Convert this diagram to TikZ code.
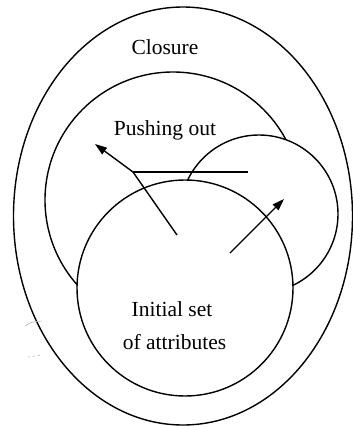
\documentclass[tikz,border=0pt]{standalone}
\usepackage{fontspec}
\setmainfont{Liberation Serif}
\newfontfamily\timesfont{Liberation Serif}
\usetikzlibrary{arrows.meta}
\begin{document}
\begin{tikzpicture}[x=1pt,y=-1pt,
  outline/.style={line width=1.4pt},
  lbl/.style={anchor=base,inner sep=0pt,font=\timesfont\fontsize{21.5}{26}\selectfont},
  push/.style={line width=1.4pt,-{Triangle[length=12pt,width=8pt]}},
  speck/.style={gray!60,line width=0.6pt}]
\useasboundingbox (0,0) rectangle (353,426);
% outer closure
\draw[outline] (183,216) ellipse [x radius=169.5pt, y radius=209pt];
% initial set
\draw[outline] (185,288) circle (108pt);
% small pushed circle, outside initial set only
\begin{scope}[even odd rule]
  \clip (-20,-20) rectangle (380,450) (185,288) circle (108pt);
  \draw[outline] (259,214) circle (79pt);
  % pushing-out circle, outside both
  \begin{scope}[even odd rule]
    \clip (-20,-20) rectangle (380,450) (259,214) circle (79pt);
    \draw[outline] (173,200) circle (128pt);
  \end{scope}
\end{scope}
% labels
\node[lbl] (closure) at (165,54) {Closure};
\node[lbl] (pushing) at (165,135) {Pushing out};
\node[lbl] (initA) at (172,316) {Initial set};
\node[lbl] (initB) at (174.5,349) {of attributes};
% horizontal line
\coordinate (hl) at (133,172);
\coordinate (hr) at (248,172);
\draw[line width=1.3pt] (hl) -- (hr);
% arrows
\coordinate (a1s) at (177,235);
\coordinate (a1t) at (95,144);
\draw[push] (a1s) -- (hl) -- (a1t);
\coordinate (a2s) at (230,253);
\coordinate (a2t) at (284,199);
\draw[push] (a2s) -- (a2t);
% faint scan marks
\coordinate (s1) at (25,326);
\coordinate (s2) at (42,321);
\draw[speck] (s1) .. controls (31,322) .. (s2);
\coordinate (s3) at (28,357);
\coordinate (s4) at (41,355);
\draw[speck,dash pattern=on 2pt off 3pt] (s3) -- (s4);
\end{tikzpicture}
\end{document}
